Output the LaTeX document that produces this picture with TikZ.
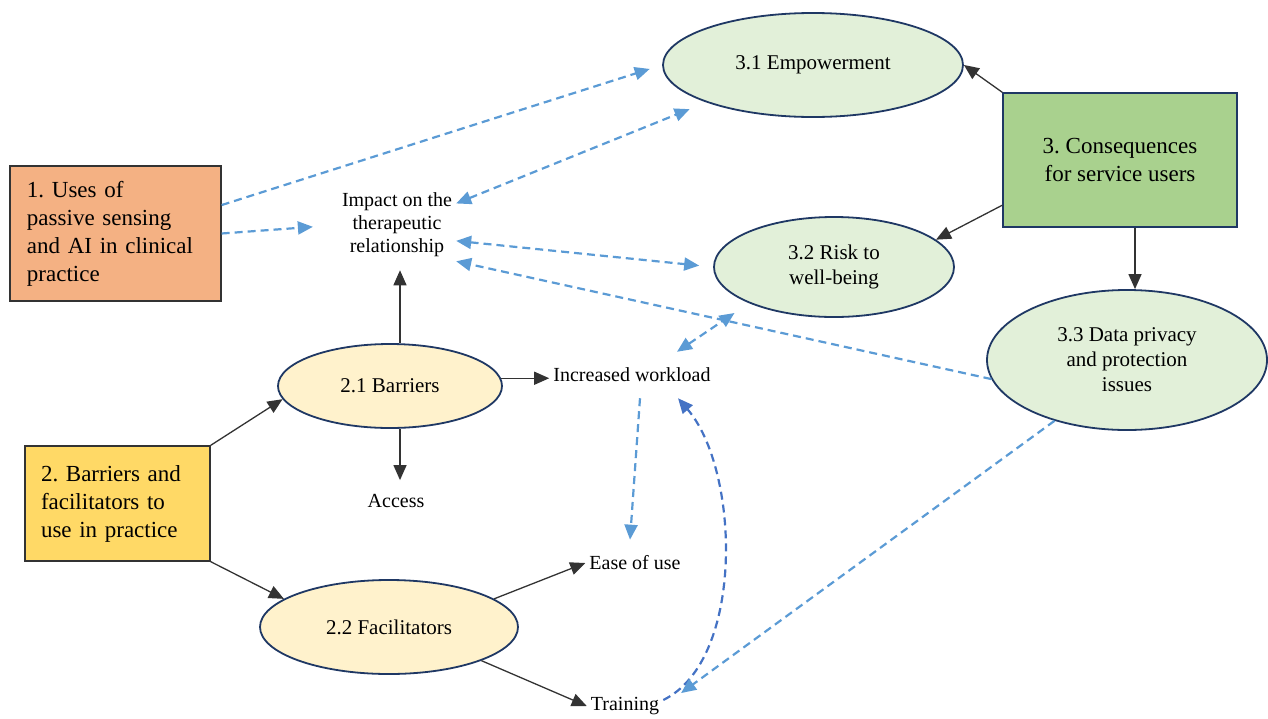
\documentclass[tikz,border=0pt]{standalone}
\usepackage{fontspec}
\setmainfont{Liberation Serif}
\usepackage{tikz}
\usetikzlibrary{shapes.geometric, arrows.meta, positioning}

\definecolor{boxorange}{HTML}{F4B183}
\definecolor{boxyellow}{HTML}{FFD966}
\definecolor{boxgreen}{HTML}{A9D18E}
\definecolor{ellgreen}{HTML}{E2F0D9}
\definecolor{ellyellow}{HTML}{FFF2CC}
\definecolor{navy}{HTML}{1F3864}
\definecolor{dashblue}{HTML}{5B9BD5}
\definecolor{curveblue}{HTML}{4472C4}

\begin{document}
\frenchspacing
\begin{tikzpicture}[x=1pt, y=-1pt,
	>={Triangle[length=15pt,width=13pt]},
	theme/.style={rectangle, draw=black!80, line width=1.3pt, inner sep=0pt, font=\fontsize{23}{28}\selectfont},
	subtheme/.style={ellipse, draw=navy, line width=1.8pt, inner sep=0pt, align=center, font=\fontsize{21}{25}\selectfont},
	code/.style={inner sep=4pt, align=center, font=\fontsize{20}{23}\selectfont},
	link/.style={->, draw=black!80, line width=1.3pt},
	dlink/.style={->, draw=dashblue, line width=2.2pt, dash pattern=on 8pt off 5pt},
	bothlink/.style={dlink, <->}]
	\useasboundingbox (0,0) rectangle (1268,718);

	% Draw the three main themes
	\node[theme, fill=boxorange, minimum width=211pt, minimum height=135pt, text width=177pt, align=left] (uses) at (115.5,233.5) {1. Uses of\\passive sensing\\and AI in clinical\\practice};
	\node[theme, fill=boxyellow, minimum width=185pt, minimum height=115pt, text width=153pt, align=left] (barfac) at (117.5,503.5) {2. Barriers and\\facilitators to\\use in practice};
	\node[theme, draw=navy, fill=boxgreen, minimum width=234pt, minimum height=134pt, align=center] (conseq) at (1120,160) {3. Consequences\\for service users};

	% Subthemes
	\node[subtheme, fill=ellgreen, minimum width=300pt, minimum height=104pt] (emp) at (813,65) {3.1 Empowerment};
	\node[subtheme, fill=ellgreen, minimum width=240pt, minimum height=100pt] (risk) at (834,267) {3.2 Risk to\\well-being};
	\node[subtheme, fill=ellgreen, minimum width=280pt, minimum height=140pt] (priv) at (1127,360) {3.3 Data privacy\\and protection\\issues};
	\node[subtheme, fill=ellyellow, minimum width=224pt, minimum height=84pt] (barr) at (390,386) {2.1 Barriers};
	\node[subtheme, fill=ellyellow, minimum width=258pt, minimum height=94pt] (facil) at (389,627) {2.2 Facilitators};

	% Labels for codes
	\node[code] (impact) at (397,225) {Impact on the\\therapeutic\\relationship};
	\node[code] (work) at (632,375) {Increased workload};
	\node[code] (access) at (396,501) {Access};
	\node[code] (ease) at (635,563) {Ease of use};
	\node[code] (train) at (625,706) {Training};

	% Draw the black arrows
	\coordinate (c3) at ([xshift=15pt]conseq.south);
	\coordinate (b1) at ([xshift=10pt]barr.north);
	\coordinate (b2) at ([xshift=10pt]barr.south);
	\draw[link] (conseq.north west) -- (emp.east);
	\draw[link] (conseq.201) -- (risk.15);
	\draw[link] (c3) -- (c3 |- priv.north);
	\draw[link, shorten >=9pt] (b1) -- (b1 |- impact.south);
	\draw[link] (barr.4) -- (barr.4 -| work.west);
	\draw[link, shorten >=10pt] (b2) -- (b2 |- access.north);
	\draw[link] (barfac.north east) -- (barr.187);
	\draw[link] (barfac.south east) -- (facil.165);
	\draw[link] (facil.15) -- (ease.west);
	\draw[link] (facil.-20) -- (train.west);

	% Draw the dashed blue links
	\draw[dlink, shorten >=13pt] (uses.15) -- (emp.west);
	\draw[dlink, shorten >=25pt] (uses.east) -- (impact.west);
	\draw[bothlink, shorten >=18pt] (impact.20) -- (emp.south west);
	\draw[bothlink, shorten >=14pt] (impact.-15) -- (risk.west);
	\draw[dlink] (priv.188) -- (impact.south east);
	\draw[bothlink] ([xshift=45pt,yshift=12pt]work.north) -- ([xshift=-14pt,yshift=-10pt]risk.south west);
	\draw[dlink] ([xshift=8pt,yshift=-12pt]work.south) -- ([xshift=-5pt,yshift=12pt]ease.north);
	\draw[dlink, draw=curveblue] ([yshift=6pt]train.east) .. controls (745,660) and (740,470) .. ([xshift=46pt,yshift=-12pt]work.south);
	\draw[dlink, shorten >=22pt] (priv.220) -- (train.east);
\end{tikzpicture}
\end{document}
